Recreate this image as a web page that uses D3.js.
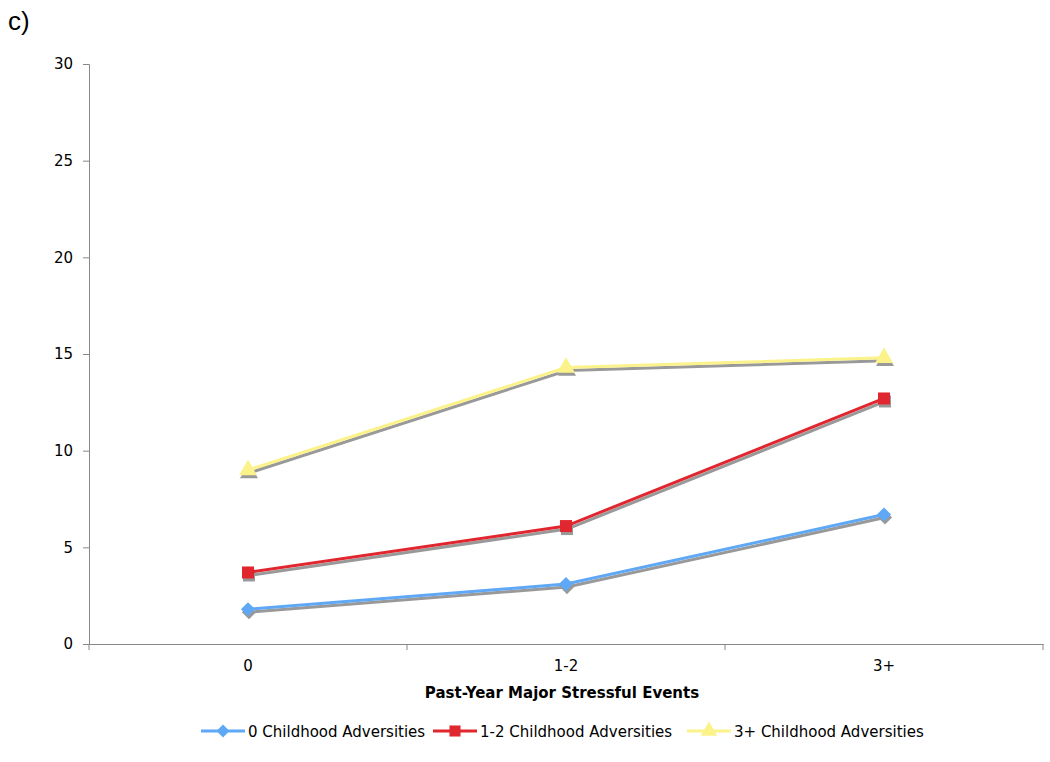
<!DOCTYPE html>
<html><head><meta charset="utf-8">
<script src="https://cdn.jsdelivr.net/npm/d3@7"></script>
<style>body{margin:0;background:#fff}svg{display:block}</style>
</head><body>
<svg id="chart" width="1050" height="762"></svg>
<script>
const categories = ["0", "1-2", "3+"];
const seriesNames = ["0 Childhood Adversities", "1-2 Childhood Adversities", "3+ Childhood Adversities"];
const zeroAdv = [1.8, 3.1, 6.7];
const oneTwoAdv = [3.7, 6.1, 12.7];
const threePlusAdv = [9.0, 14.3, 14.8];
const yTicks = [0, 5, 10, 15, 20, 25, 30];
const colors = ["#5fa8f5", "#e0262e", "#fbf38a"];
const series = [zeroAdv, oneTwoAdv, threePlusAdv];

(function () {
const symbols = [d3.symbolSquare, d3.symbolSquare, d3.symbolTriangle];
const rot = [45, 0, 0];
const sizes = [100, 144, 140];
const svg = d3.select("#chart");
const mLeft = 89, mRight = 1043, mTop = 64, mBottom = 644;
const x = d3.scaleBand().domain(categories).range([mLeft, mRight]).padding(0);
const y = d3.scaleLinear().domain([0, 30]).range([mBottom, mTop]);
const font = "Verdana, 'DejaVu Sans', sans-serif";
const fs = 15;

svg.append("text").attr("x", 8).attr("y", 30).attr("font-family", "'Liberation Sans', Arial, sans-serif")
  .attr("font-size", 26).text("c)");

// y axis
const ya = svg.append("g").attr("transform", `translate(${mLeft},0)`)
  .call(d3.axisLeft(y).tickValues(yTicks).tickSize(6).tickPadding(10));
ya.select(".domain").attr("stroke", "#888");
ya.selectAll(".tick line").attr("stroke", "#888");
ya.selectAll("text").attr("font-family", font).attr("font-size", fs).attr("fill", "#000");

// x axis
const xa = svg.append("g").attr("transform", `translate(0,${mBottom})`)
  .call(d3.axisBottom(x).tickSize(0).tickPadding(16));
xa.select(".domain").attr("stroke", "#888");
xa.selectAll("text").attr("font-family", font).attr("font-size", fs).attr("fill", "#000");
const bounds = categories.map(c => x(c)).concat([x(categories[categories.length-1]) + x.bandwidth()]);
xa.selectAll(".sep").data(bounds).enter().append("line")
  .attr("x1", d => d).attr("x2", d => d).attr("y1", 0).attr("y2", 6).attr("stroke", "#888");

svg.append("text").attr("x", (mLeft + mRight) / 2 - 4).attr("y", 698).attr("text-anchor", "middle")
  .attr("font-family", font).attr("font-weight", "bold").attr("font-size", fs).text("Past-Year Major Stressful Events");

const cx = c => x(c) + x.bandwidth() / 2;
const line = d3.line().x((d, i) => cx(categories[i])).y(d => y(d));

// shadows
series.forEach((s, k) => {
  const g = svg.append("g").attr("transform", "translate(1,3)");
  g.append("path").attr("d", line(s)).attr("fill", "none").attr("stroke", "#999").attr("stroke-width", 3);
  g.selectAll(null).data(s).enter().append("path")
    .attr("d", d3.symbol().type(symbols[k]).size(sizes[k]))
    .attr("transform", (d, i) => `translate(${cx(categories[i])},${y(d)}) rotate(${rot[k]})`).attr("fill", "#999");
});
series.forEach((s, k) => {
  svg.append("path").attr("d", line(s)).attr("fill", "none").attr("stroke", colors[k]).attr("stroke-width", 3);
  svg.selectAll(null).data(s).enter().append("path")
    .attr("d", d3.symbol().type(symbols[k]).size(sizes[k]))
    .attr("transform", (d, i) => `translate(${cx(categories[i])},${y(d)}) rotate(${rot[k]})`).attr("fill", colors[k]);
});

// legend
const legX = [201, 433, 687];
seriesNames.forEach((n, k) => {
  const g = svg.append("g").attr("transform", `translate(${legX[k]},731)`);
  g.append("line").attr("x1", 0).attr("x2", 44).attr("stroke", colors[k]).attr("stroke-width", 3);
  g.append("path").attr("d", d3.symbol().type(symbols[k]).size(sizes[k] * 0.85))
    .attr("transform", `translate(22,0) rotate(${rot[k]})`).attr("fill", colors[k]);
  g.append("text").attr("x", 47).attr("y", 5.5).attr("font-family", font).attr("font-size", fs).text(n);
});
})();
</script>
</body></html>
